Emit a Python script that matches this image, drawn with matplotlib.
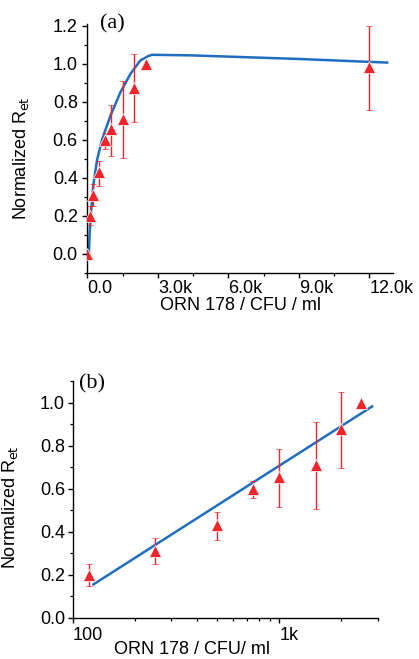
import matplotlib
matplotlib.use("Agg")
import matplotlib.pyplot as plt
from matplotlib.ticker import MultipleLocator, FixedLocator, LogLocator, NullFormatter

plt.rcParams['font.family'] = ['Liberation Sans', 'DejaVu Sans']

# ---- data ----
conc = [0, 120, 250, 500, 750, 1000, 1500, 2000, 2500, 12000]
ret = [0.0, 0.20, 0.31, 0.43, 0.60, 0.656, 0.709, 0.875, 1.0, 0.985]
err_lo = [0.005, 0.05, 0.06, 0.07, 0.045, 0.14, 0.205, 0.18, 0.0, 0.225]
err_hi = [0.005, 0.05, 0.06, 0.06, 0.035, 0.13, 0.20, 0.175, 0.0, 0.215]

curve_x = [60, 90, 127, 242, 411, 623, 975, 1399, 1824, 2248, 2600, 2750, 4400, 9000, 12750]
curve_y = [0.0, 0.10, 0.18, 0.356, 0.497, 0.603, 0.727, 0.85, 0.947, 1.018, 1.042, 1.048, 1.045, 1.026, 1.007]

fit_x = [126, 2820]
fit_y = [0.156, 0.982]

xticks_a = [0, 3000, 6000, 9000, 12000]
xticklabels_a = ['0.0', '3.0k', '6.0k', '9.0k', '12.0k']
yticks = [0.0, 0.2, 0.4, 0.6, 0.8, 1.0, 1.2]
yticks_b = [0.0, 0.2, 0.4, 0.6, 0.8, 1.0]
xticks_b = [100, 1000]
xticklabels_b = ['100', '1k']

RED = '#f0242a'
BLUE = '#1f6ebf'
FS = 13

fig = plt.figure(figsize=(4.19, 6.59), dpi=100)
W, H = 419.0, 659.0
ax_a = fig.add_axes([87 / W, (H - 273) / H, 306 / W, 249 / H])
ax_b = fig.add_axes([72.7 / W, (H - 618) / H, 305 / W, 237 / H])

for ax in (ax_a, ax_b):
    ax.spines['top'].set_visible(False)
    ax.spines['right'].set_visible(False)
    for s in ('left', 'bottom'):
        ax.spines[s].set_linewidth(1.0)
    ax.tick_params(which='major', direction='out', length=3.6, width=1.0, labelsize=FS)
    ax.tick_params(which='minor', direction='out', length=2.2, width=0.9)

# ---- panel (a) ----
ax_a.plot(curve_x, curve_y, color=BLUE, lw=1.8, zorder=2)
ax_a.errorbar(conc, ret, yerr=[err_lo, err_hi], fmt='^', color=RED, ms=8.5,
              mec='white', mew=0.5, elinewidth=1.0, capsize=2.2, capthick=1.0, zorder=3)
ax_a.set_xlim(-20, 13000)
ax_a.set_ylim(-0.1, 1.21)
ax_a.xaxis.set_major_locator(FixedLocator(xticks_a))
ax_a.set_xticklabels(xticklabels_a, ha='left')
ax_a.xaxis.set_minor_locator(MultipleLocator(1500))
ax_a.yaxis.set_major_locator(FixedLocator(yticks))
ax_a.set_yticklabels([f'{v:.1f}' for v in yticks])
ax_a.yaxis.set_minor_locator(MultipleLocator(0.1))
ax_a.tick_params(axis='y', which='major', pad=3)
ax_a.tick_params(axis='x', which='major', pad=1.5)
ax_a.set_ylabel('Normalized R$_{\\mathrm{et}}$', fontsize=FS)
ax_a.yaxis.set_label_coords((31 - 87) / 306, (273 - 158) / 249)
ax_a.set_xlabel('ORN 178 / CFU / ml', fontsize=FS)
ax_a.xaxis.set_label_coords(0.5, -(297 - 273) / 249)
ax_a.text((112 - 87) / 306, 1.0, '(a)', transform=ax_a.transAxes, fontsize=16,
          family=['Liberation Serif'], ha='center', va='center')

# ---- panel (b) ----
ax_b.set_xscale('log')
ax_b.plot(fit_x, fit_y, color=BLUE, lw=1.8, zorder=2)
ax_b.errorbar(conc[1:9], ret[1:9], yerr=[err_lo[1:9], err_hi[1:9]], fmt='^', color=RED, ms=8.5,
              mec='white', mew=0.5, elinewidth=1.0, capsize=2.2, capthick=1.0, zorder=3)
ax_b.set_xlim(100, 3000)
ax_b.set_ylim(0, 1.1)
ax_b.xaxis.set_major_locator(FixedLocator(xticks_b))
ax_b.set_xticklabels(xticklabels_b, ha='left')
ax_b.xaxis.set_minor_locator(LogLocator(base=10, subs=[2, 3, 4, 5, 6, 7, 8, 9]))
ax_b.xaxis.set_minor_formatter(NullFormatter())
ax_b.yaxis.set_major_locator(FixedLocator(yticks_b))
ax_b.set_yticklabels([f'{v:.1f}' for v in yticks_b])
ax_b.yaxis.set_minor_locator(MultipleLocator(0.1))
ax_b.tick_params(axis='y', which='major', pad=2)
ax_b.tick_params(axis='x', which='major', pad=3)
ax_b.set_ylabel('Normalized R$_{\\mathrm{et}}$', fontsize=FS)
ax_b.yaxis.set_label_coords((20 - 72.7) / 305, (618 - 507) / 237)
ax_b.set_xlabel('ORN 178 / CFU/ ml', fontsize=FS)
ax_b.xaxis.set_label_coords((192 - 72.7) / 305, -(641 - 618) / 237)
ax_b.text((92 - 72.7) / 305, (618 - 384) / 237, '(b)', transform=ax_b.transAxes, fontsize=16,
          family=['Liberation Serif'], ha='center', va='center')

fig.savefig('out.png', dpi=100)
